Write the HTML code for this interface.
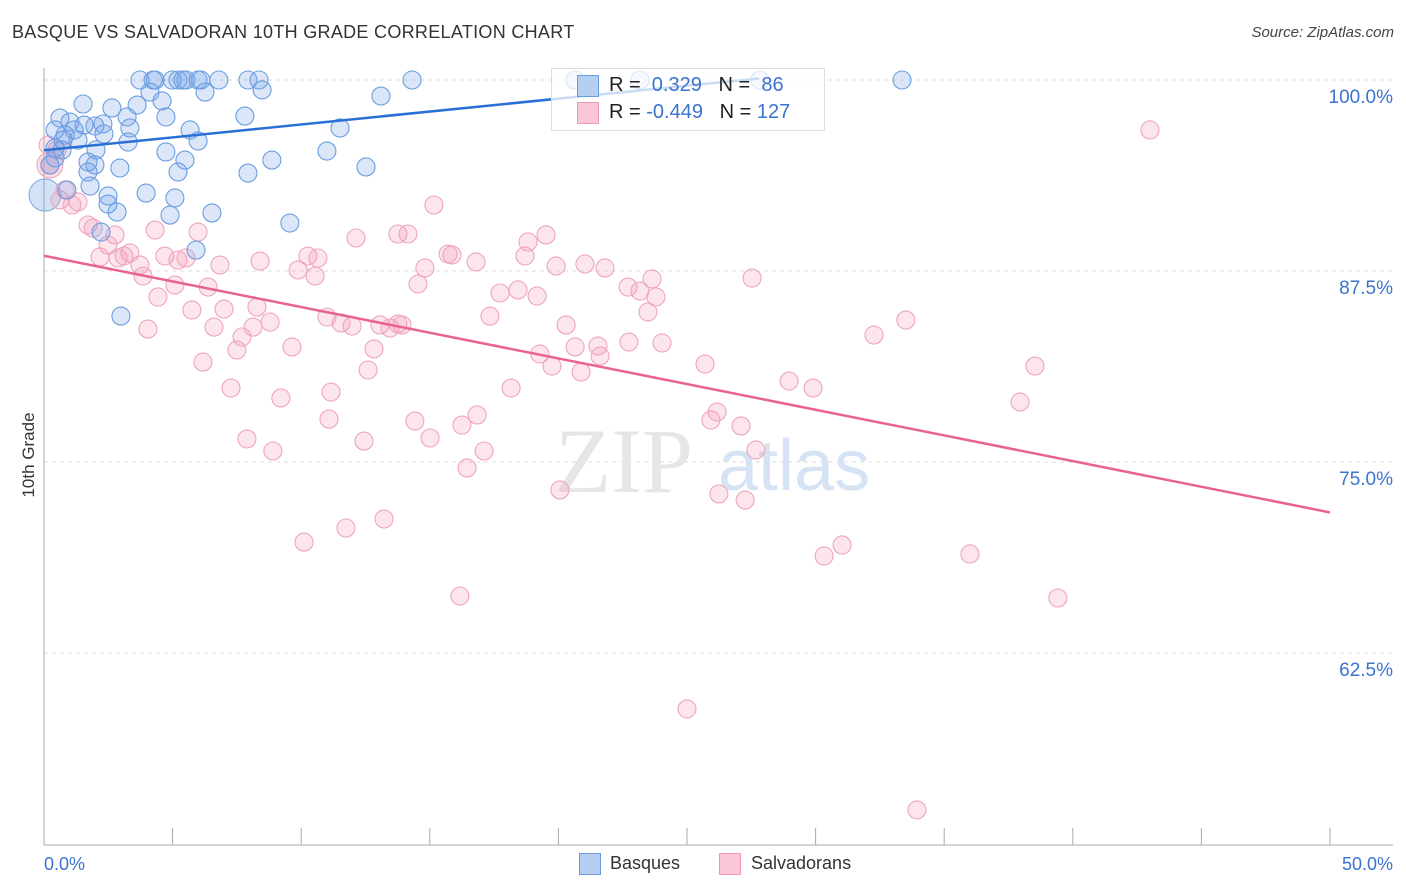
<!DOCTYPE html>
<html><head><meta charset="utf-8"><style>
body{margin:0;background:#fff;font-family:"Liberation Sans",sans-serif;}
#wrap{position:relative;width:1406px;height:892px;overflow:hidden;}
.t{position:absolute;white-space:nowrap;}
</style></head><body>
<div id="wrap">
<div class="t" style="left:12px;top:22px;font-size:18px;letter-spacing:0.3px;color:#333;">BASQUE VS SALVADORAN 10TH GRADE CORRELATION CHART</div>
<div class="t" style="right:12px;top:24px;font-size:15px;color:#444;font-style:italic;">Source: ZipAtlas.com</div>
<svg id="svg" width="1406" height="892" style="position:absolute;left:0;top:0"></svg>
</div>
<script>
const xTicks=[0,5,10,15,20,25,30,35,40,45,50];
const yTicks=[100,87.5,75,62.5];
const yTickLabels=["100.0%","87.5%","75.0%","62.5%"];
const basqueX=[3.73,4.24,4.32,4.98,5.21,5.40,5.52,5.99,6.10,6.80,7.93,8.36,14.31,20.65,23.17,27.84,33.36,4.12,6.26,8.48,13.10,1.52,2.64,3.62,4.59,7.81,4.74,2.29,3.23,1.01,1.17,0.82,1.98,3.34,0.74,1.32,2.33,5.68,11.51,0.43,0.70,2.02,3.27,5.99,4.74,5.48,8.86,11.00,1.71,1.98,1.71,2.95,5.21,7.93,12.52,0.89,1.79,2.49,3.97,5.09,2.49,2.84,4.90,6.53,9.56,2.22,5.91,2.99,0.43,0.23,0.43,1.56,0.62];
const basqueY=[100,100,100,100,100,100,100,100,100,100,100,100,100,100,100,100,100,99.21,99.21,99.35,98.95,98.43,98.17,98.36,98.63,97.64,97.58,97.12,97.58,97.25,96.73,96.40,96.99,96.86,96.07,96.07,96.47,96.73,96.86,95.55,95.42,95.42,95.94,96.01,95.29,94.76,94.76,95.35,94.63,94.44,93.98,94.24,93.98,93.91,94.31,92.80,93.06,92.41,92.60,92.28,91.88,91.36,91.16,91.30,90.64,90.05,88.87,84.55,94.90,94.44,96.73,97.05,97.51];
const salvX=[0.16,0.51,0.23,0.82,0.62,1.32,1.09,1.71,1.91,2.76,4.32,5.99,2.49,3.34,2.18,2.88,3.11,3.73,4.70,5.21,5.52,6.84,3.85,5.09,6.38,4.43,7.00,5.75,4.04,6.61,8.28,8.40,8.79,7.50,7.70,8.13,9.64,9.88,10.26,10.65,10.54,11.00,11.55,11.98,12.13,12.83,12.60,13.06,13.45,13.76,14.15,14.81,14.54,15.86,15.16,15.71,13.76,13.92,16.80,17.34,17.73,18.43,19.17,18.70,18.82,19.52,19.91,21.03,21.81,20.30,20.65,21.54,21.62,19.28,19.75,20.88,22.71,23.17,23.64,23.79,23.48,22.74,24.03,25.70,27.53,32.27,33.51,28.97,29.90,38.53,37.95,43.00,6.18,7.27,9.21,11.16,11.08,7.89,8.90,12.44,14.42,15.01,16.25,16.84,16.45,17.11,18.16,20.06,25.93,26.17,27.10,27.68,26.24,27.26,10.11,11.74,13.22,16.17,25.00,30.33,31.03,36.00,39.42,33.94];
const salvY=[95.75,95.42,94.44,92.80,92.15,92.02,91.82,90.51,90.31,89.86,90.18,90.05,89.20,88.68,88.42,88.35,88.48,87.89,88.48,88.22,88.35,87.89,87.17,86.58,86.45,85.80,85.01,84.95,83.70,83.83,85.14,88.15,84.16,82.33,83.18,83.83,82.53,87.57,88.48,88.35,87.17,84.49,84.10,83.90,89.66,82.40,81.02,83.97,83.77,89.92,89.92,87.70,86.65,88.55,91.82,88.61,84.03,83.97,88.09,84.55,86.06,86.26,85.86,88.48,89.40,89.86,87.83,87.96,87.70,83.97,82.53,82.59,81.94,82.07,81.28,80.89,86.45,86.19,86.98,85.80,84.82,82.85,82.79,81.41,87.04,83.31,84.29,80.30,79.84,81.28,78.93,96.73,81.54,79.84,79.19,79.58,77.81,76.51,75.72,76.37,77.68,76.57,77.42,78.08,74.61,75.72,79.84,73.17,77.75,78.27,77.36,75.79,72.91,72.51,69.76,70.68,71.27,66.23,58.84,68.85,69.57,68.98,66.10,52.23];
const basqueLine=[[0,95.4],[27.8,100.1]];
const salvLine=[[0,88.5],[50,71.7]];

const X0=44,X1=1330,Y100=80,PER=191/12.5;
const sx=v=>X0+v/50*(X1-X0);
const sy=v=>Y100+(100-v)*PER;
const svg=document.getElementById('svg');
const NS='http://www.w3.org/2000/svg';
function mk(tag,attrs,parent){const e=document.createElementNS(NS,tag);for(const k in attrs)e.setAttribute(k,attrs[k]);(parent||svg).appendChild(e);return e;}

yTicks.forEach((v,i)=>{
  const g=mk('line',{x1:X0,x2:1393,y1:sy(v),y2:sy(v),stroke:'#ddd','stroke-dasharray':'4,4'});
  
  
  const t=mk('text',{x:1393,y:sy(v)+23,'text-anchor':'end','font-size':19,fill:'#3b73d1'});
  t.textContent=yTickLabels[i];
  
  
});
const ya=mk('line',{x1:X0,x2:X0,y1:68,y2:845,stroke:'#aaa'});


const xa=mk('line',{x1:X0,x2:1393,y1:845,y2:845,stroke:'#aaa'});


xTicks.forEach(v=>{
  const tk=mk('line',{x1:sx(v),x2:sx(v),y1:828,y2:845,stroke:'#aaa'});
  
  
});
const xl0=mk('text',{x:44,y:870,'font-size':18,fill:'#3b73d1'});xl0.textContent='0.0%';


const xl1=mk('text',{x:1393,y:870,'font-size':18,fill:'#3b73d1','text-anchor':'end'});xl1.textContent='50.0%';


const yt=mk('text',{x:0,y:0,'font-size':17,fill:'#333','text-anchor':'middle',transform:'translate(34,455) rotate(-90)'});yt.textContent='10th Grade';


const wm=mk('text',{x:555,y:492,'font-size':92,fill:'#e6e6e6','font-family':'Liberation Serif'});wm.textContent='ZIP';


const wm2=mk('text',{x:718,y:490,'font-size':72,fill:'#d5e3f5'});wm2.textContent='atlas';



const bb=mk('circle',{cx:sx(0.04),cy:sy(92.47),r:16,fill:'rgba(110,160,230,0.3)',stroke:'#7aa6e3'});


const pb=mk('circle',{cx:sx(0.23),cy:sy(94.44),r:13,fill:'rgba(240,140,170,0.3)',stroke:'#efa5bd'});



salvX.forEach((v,i)=>{
  const c=mk('circle',{cx:sx(v),cy:sy(salvY[i]),r:9,fill:'rgba(242,150,180,0.25)',stroke:'#efa5bd','stroke-width':1.1});
  
  
});
basqueX.forEach((v,i)=>{
  const c=mk('circle',{cx:sx(v),cy:sy(basqueY[i]),r:9,fill:'rgba(110,160,230,0.25)',stroke:'#6b9de0','stroke-width':1.1});
  
  
});
const bl=mk('line',{x1:sx(basqueLine[0][0]),y1:sy(basqueLine[0][1]),x2:sx(basqueLine[1][0]),y2:sy(basqueLine[1][1]),stroke:'#2a6fd6','stroke-width':2.5});


const pl=mk('line',{x1:sx(salvLine[0][0]),y1:sy(salvLine[0][1]),x2:sx(salvLine[1][0]),y2:sy(salvLine[1][1]),stroke:'#e8638f','stroke-width':2.5});


</script>
<div class="t" style="left:551px;top:68px;width:272px;height:61px;border:1px solid #ddd;background:rgba(255,255,255,0.75);"></div>
<div class="t" style="left:577px;top:75px;width:20px;height:20px;background:#b5cff3;border:1px solid #6a9be0;"></div>
<div class="t" style="left:577px;top:102px;width:20px;height:20px;background:#fac7d6;border:1px solid #ec99b5;"></div>
<div class="t" style="left:609px;top:74px;font-size:20px;color:#222;">R = <span style="color:#3b73d1">&nbsp;0.329</span>&nbsp;&nbsp; N = <span style="color:#3b73d1">&nbsp;86</span></div>
<div class="t" style="left:609px;top:101px;font-size:20px;color:#222;">R = <span style="color:#3b73d1">-0.449</span>&nbsp;&nbsp; N = <span style="color:#3b73d1">127</span></div>
<div class="t" style="left:579px;top:853px;width:20px;height:20px;background:#b5cff3;border:1px solid #6a9be0;"></div>
<div class="t" style="left:610px;top:853px;font-size:18px;color:#333;">Basques</div>
<div class="t" style="left:719px;top:853px;width:20px;height:20px;background:#fac7d6;border:1px solid #ec99b5;"></div>
<div class="t" style="left:751px;top:853px;font-size:18px;color:#333;">Salvadorans</div>
</body></html>
